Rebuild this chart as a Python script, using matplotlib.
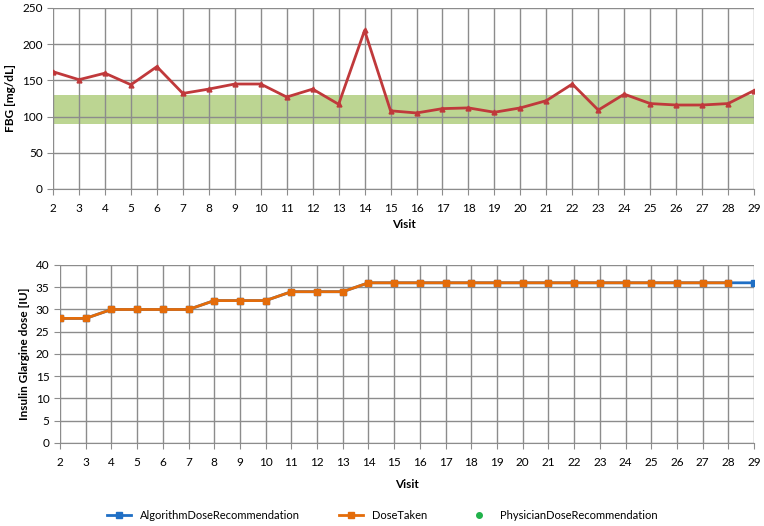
import matplotlib.pyplot as plt
import numpy as np

plt.rcParams['font.family'] = ['Lato', 'DejaVu Sans']

visits = list(range(2, 30))
fbg = [162, 151, 160, 144, 169, 132, 138, 145, 145, 127, 138, 117, 219, 108,
       105, 111, 112, 106, 112, 122, 145, 109, 131, 118, 116, 116, 118, 136]
target_low, target_high = 90, 130

algo_dose = [28, 28, 30, 30, 30, 30, 32, 32, 32, 34, 34, 34, 36, 36,
             36, 36, 36, 36, 36, 36, 36, 36, 36, 36, 36, 36, 36, 36]
dose_taken = algo_dose[:-1]
dose_visits = visits[:-1]
physician_visits = []
physician_dose = []

grid_col = '#8c8c8c'
tick_fs = 8.5
lab_fs = 8.5

fig = plt.figure(figsize=(7.64, 5.26), dpi=100)

# top chart: FBG, green band = target range
ax1 = fig.add_axes([0.0694, 0.6407, 0.9176, 0.3441])
ax1.axhspan(target_low, target_high, color='#bcd592', zorder=0.2, lw=0)
ax1.plot(visits, fbg, color='#c0393b', lw=2, marker='^', ms=3.5, zorder=3)
ax1.set_xlim(2, 29)
ax1.set_ylim(0, 250)
ax1.set_xticks(visits)
ax1.set_yticks(range(0, 251, 50))
ax1.set_ylabel('FBG [mg/dL]', fontsize=lab_fs, fontweight='bold')
ax1.set_xlabel('Visit', fontsize=lab_fs, fontweight='bold', labelpad=4)

# bottom chart: dose
ax2 = fig.add_axes([0.0785, 0.1578, 0.9085, 0.3384])
ax2.plot(visits, algo_dose, color='#1f6fc5', lw=2, marker='s', ms=5, zorder=3,
         label='AlgorithmDoseRecommendation')
ax2.plot(dose_visits, dose_taken, color='#e46c0a', lw=2, marker='s', ms=5,
         zorder=4, label='DoseTaken')
ax2.plot(physician_visits, physician_dose, color='#21b24b', ls='none',
         marker='o', ms=4, label='PhysicianDoseRecommendation')
ax2.set_xlim(2, 29)
ax2.set_ylim(0, 40)
ax2.set_xticks(visits)
ax2.set_yticks(range(0, 41, 5))
ax2.set_ylabel('Insulin Glargine dose [IU]', fontsize=lab_fs, fontweight='bold')
ax2.set_xlabel('Visit', fontsize=lab_fs, fontweight='bold', labelpad=8)

for ax in (ax1, ax2):
    ax.grid(True, color=grid_col, lw=1, zorder=0.5)
    ax.set_axisbelow(True)
    for s in ['top', 'right', 'left']:
        ax.spines[s].set_visible(False)
    ax.spines['bottom'].set_color(grid_col)
    ax.tick_params(axis='x', length=4, color=grid_col, labelsize=tick_fs, pad=6)
    ax.tick_params(axis='y', length=4, color=grid_col, labelsize=tick_fs)

fig.legend(loc='center', bbox_to_anchor=(0.5, 0.02), ncol=3, frameon=False,
           fontsize=8, columnspacing=3.5, handlelength=2.2)

fig.savefig('out.png', dpi=100)
